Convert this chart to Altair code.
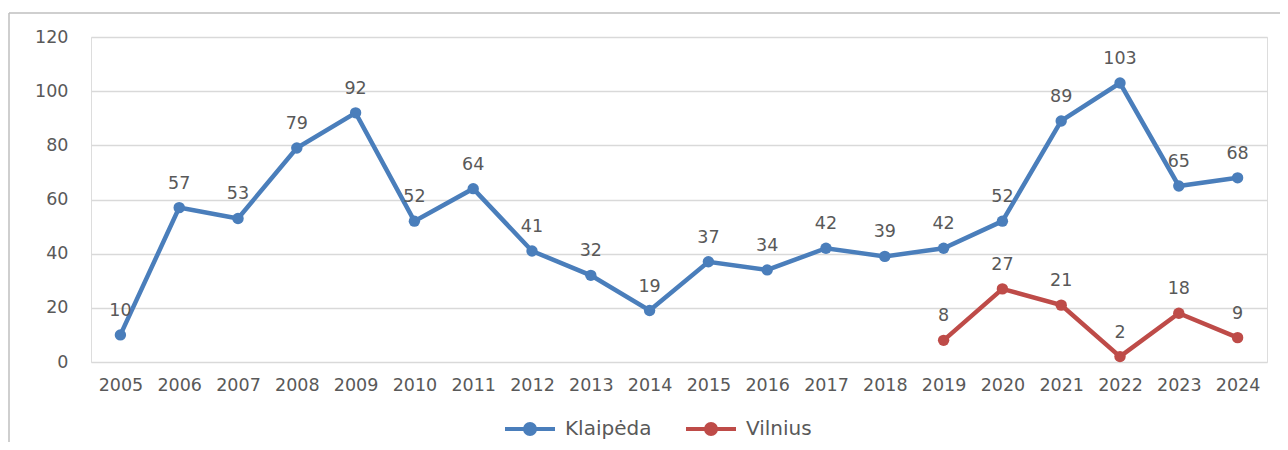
import altair as alt
import pandas as pd

years = [str(y) for y in range(2005, 2025)]
klaipeda = [10, 57, 53, 79, 92, 52, 64, 41, 32, 19, 37, 34, 42, 39, 42, 52, 89, 103, 65, 68]
vilnius_years = [str(y) for y in range(2019, 2025)]
vilnius = [8, 27, 21, 2, 18, 9]
series = ["Klaipėda", "Vilnius"]
colors = ["#4A7EBB", "#BE4B48"]
y_ticks = [0, 20, 40, 60, 80, 100, 120]

rows = [{"Year": y, "Value": v, "City": series[0]} for y, v in zip(years, klaipeda)]
rows += [{"Year": y, "Value": v, "City": series[1]} for y, v in zip(vilnius_years, vilnius)]
df = pd.DataFrame(rows)

FONT = "DejaVu Sans"
TXT = "#595959"

x = alt.X("Year:O", sort=years, scale=alt.Scale(type="point", padding=0.5, domain=years),
          axis=alt.Axis(title=None, labelAngle=0, domain=False, ticks=False, labelPadding=14,
                        labelFont=FONT, labelFontSize=17.5, labelColor=TXT, grid=False))
y = alt.Y("Value:Q", scale=alt.Scale(domain=[0, 120], nice=False),
          axis=alt.Axis(title=None, values=y_ticks, domain=False, ticks=False, labelPadding=23,
                        labelFont=FONT, labelFontSize=17.5, labelColor=TXT,
                        gridColor="#D9D9D9", gridWidth=1.5))
color = alt.Color("City:N", scale=alt.Scale(domain=series, range=colors),
                  legend=alt.Legend(title=None, orient="none", direction="horizontal",
                                    legendX=412, legendY=365,
                                    symbolType="M -1 0 L 1 0 M 0.2 0 A 0.2 0.2 0 1 1 -0.2 0 A 0.2 0.2 0 1 1 0.2 0 Z",
                                    symbolSize=2500, symbolStrokeWidth=4,
                                    labelFont=FONT, labelFontSize=20, labelColor=TXT,
                                    columnPadding=26, labelOffset=8))

base = alt.Chart(df)
line = base.mark_line(strokeWidth=4.5).encode(x=x, y=y, color=color, detail="City:N")
pts = base.mark_circle(size=130, opacity=1).encode(x=x, y=y, color=alt.Color("City:N", scale=alt.Scale(domain=series, range=colors), legend=None))
labels = base.mark_text(dy=-24, font=FONT, fontSize=17.5, color=TXT).encode(x=x, y=y, text="Value:Q")

border_top = alt.Chart(pd.DataFrame({"a": [0]})).mark_rule(color="#BFBFBF", strokeWidth=1.5, clip=False).encode(
    x=alt.value(-82), x2=alt.value(1200), y=alt.value(-24))
border_left = alt.Chart(pd.DataFrame({"a": [0]})).mark_rule(color="#BFBFBF", strokeWidth=1.5, clip=False).encode(
    x=alt.value(-82), y=alt.value(-24), y2=alt.value(420))

chart = alt.layer(border_top, border_left, line, pts, labels).properties(
    width=1176, height=325,
    autosize=alt.AutoSizeParams(type="none"),
    padding={"left": 83, "top": 29, "right": 13, "bottom": 80},
).configure_view(stroke=None).configure(background="white")

chart.save("out.html", embed_options={"renderer": "svg", "actions": False})
